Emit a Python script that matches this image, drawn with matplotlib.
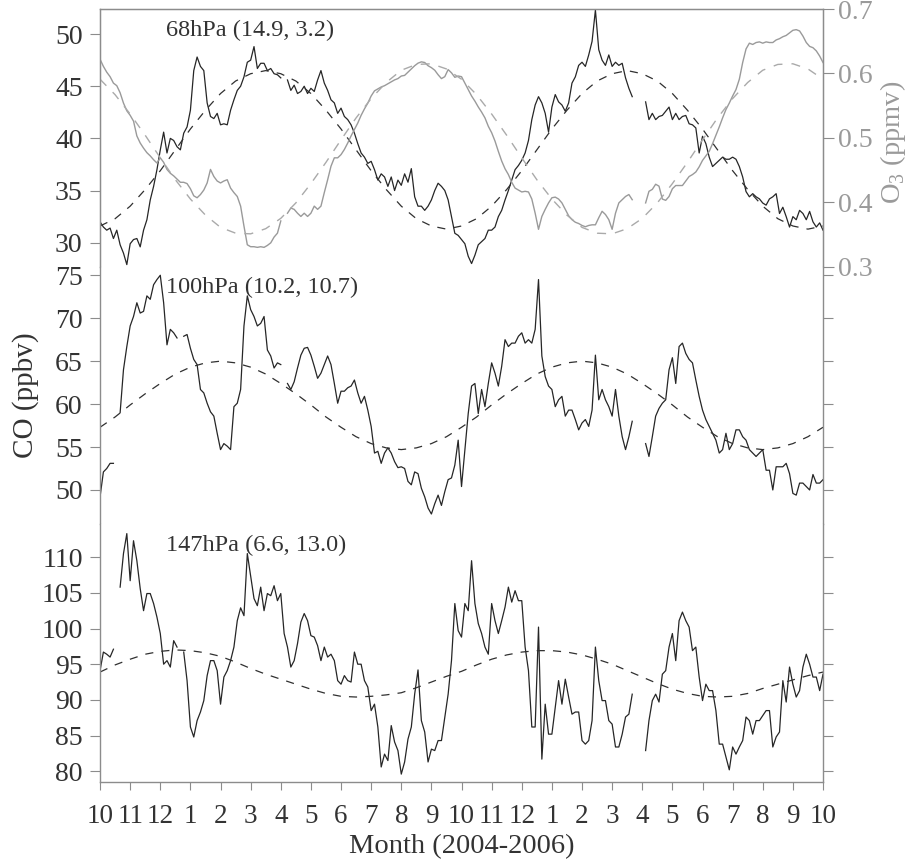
import numpy as np
import matplotlib
matplotlib.use("Agg")
from matplotlib import pyplot as plt

plt.rcParams['font.family'] = ['Liberation Serif', 'DejaVu Serif']
plt.rcParams['mathtext.fontset'] = 'custom'
plt.rcParams['mathtext.rm'] = 'Liberation Serif'

nan = np.nan

# x axis: months since 1 Oct 2004
month_ticks = list(range(25))
month_labels = ['10', '11', '12', '1', '2', '3', '4', '5', '6', '7', '8', '9',
                '10', '11', '12', '1', '2', '3', '4', '5', '6', '7', '8', '9', '10']

# CO at 68 hPa (ppbv), one value every 1/9 month
co68 = [32.0, 31.5, 31.2, 31.4, 30.4, 31.2, 29.8, 29.0, 27.9, 29.9,
        30.3, 30.4, 29.6, 31.2, 32.2, 34.1, 35.4, 37.0, 38.9, 40.6,
        38.6, 40.0, 39.8, 39.2, 38.9, 40.5, 41.1, 42.7, 46.5, 47.8,
        46.9, 46.5, 43.4, 42.1, 41.9, 42.4, 41.3, 41.4, 41.3, 42.7,
        43.7, 44.6, 45.0, 45.9, 47.3, 47.5, 48.8, 46.7, 47.2, 47.2,
        46.5, 46.7, 46.2, 46.1, 45.8, nan, 45.6, 44.6, 45.1, 44.3,
        44.5, 45.0, 44.3, 44.8, 44.5, 45.6, 46.5, 45.3, 44.6, 43.7,
        43.4, 42.4, 42.9, 42.1, 41.8, 41.3, 40.5, 39.5, 38.6, 38.2,
        37.6, 37.8, 37.0, 36.0, 36.6, 36.3, 35.4, 36.3, 35.0, 36.0,
        35.5, 36.6, 35.8, 37.1, 34.4, 33.5, 33.5, 33.1, 33.5, 34.1,
        35.0, 35.7, 35.4, 35.0, 34.1, 32.5, 30.9, 30.7,
        30.3, 29.9, 28.7, 28.0, 28.8, 29.8, 30.1, 30.4, 31.2, 31.2,
        31.5, 32.5, 33.1, 34.1, 35.0, 36.0, 37.0, 37.4, 37.9, 38.6,
        39.8, 41.8, 43.2, 44.0, 43.4, 42.4, 40.6, 43.0, 44.2, 43.5,
        43.2, 42.6, 43.4, 45.3, 45.9, 47.0, 47.3, 46.9, 48.0, 49.3,
        52.3, 48.5, 47.5, 47.0, 48.0, 46.9, 47.3, 47.0, 47.2, 45.8,
        44.8, 44.0, nan, nan, nan, 43.5, 41.8, 42.4, 41.8, 42.1,
        42.2, 42.6, 43.0, 41.8, 42.4, 41.8, 42.1, 42.2, 41.4, 41.3,
        41.0, 38.6, 40.2, 39.5, 38.2, 37.3, 37.6, 37.9, 38.2, 38.0,
        38.0, 38.2, 38.0, 37.3, 36.3, 34.9, 34.4, 34.7, 34.4, 34.2,
        33.8, 33.6, 34.2, 34.4, 34.7, 32.8, 33.4, 32.5, 31.5, 32.5,
        32.2, 33.1, 32.8, 32.2, 33.0, 32.0, 31.5, 31.9, 31.2]

# O3 at 68 hPa (ppmv)
o3_68 = [0.622, 0.611, 0.602, 0.595, 0.585, 0.581, 0.570, 0.554, 0.542, 0.535,
         0.526, 0.503, 0.492, 0.484, 0.477, 0.472, 0.466, 0.461, 0.469, 0.462,
         0.451, 0.445, 0.441, 0.436, 0.431, 0.431, 0.429, 0.421, 0.410, 0.407,
         0.412, 0.419, 0.430, 0.451, 0.440, 0.433, 0.430, 0.433, 0.435, 0.422,
         0.415, 0.409, 0.394, 0.363, 0.334, 0.331, 0.331, 0.330, 0.331, 0.330,
         0.333, 0.337, 0.346, 0.352, 0.371, nan, 0.383, 0.391, 0.389, 0.383,
         0.378, 0.383, 0.378, 0.383, 0.394, 0.389, 0.394, 0.415, 0.435, 0.456,
         0.469, 0.469, 0.474, 0.482, 0.492, 0.503, 0.513, 0.523, 0.535, 0.545,
         0.554, 0.565, 0.573, 0.576, 0.579, 0.581, 0.584, 0.587, 0.590, 0.592,
         0.596, 0.597, 0.602, 0.607, 0.612, 0.616, 0.618, 0.617, 0.612, 0.609,
         0.605, 0.598, 0.592, 0.595, 0.606, 0.601, 0.594, 0.596,
         0.595, 0.585, 0.575, 0.565, 0.557, 0.548, 0.540, 0.531, 0.518, 0.508,
         0.495, 0.479, 0.464, 0.452, 0.443, 0.431, 0.422, 0.419, 0.416, 0.417,
         0.416, 0.405, 0.383, 0.358, 0.378, 0.389, 0.399, 0.407, 0.408, 0.405,
         0.399, 0.389, 0.379, 0.373, 0.369, 0.367, 0.364, 0.362, 0.364, 0.365,
         0.365, 0.376, 0.386, 0.381, 0.373, 0.358, 0.383, 0.399, 0.404, 0.409,
         0.412, 0.404, nan, nan, nan, 0.399, 0.417, 0.420, 0.428, 0.425,
         0.405, 0.403, 0.409, 0.421, 0.426, 0.426, 0.426, 0.433, 0.440, 0.443,
         0.447, 0.455, 0.465, 0.472, 0.479, 0.491, 0.504, 0.517, 0.531, 0.544,
         0.554, 0.565, 0.575, 0.591, 0.617, 0.638, 0.647, 0.645, 0.648, 0.649,
         0.647, 0.649, 0.648, 0.648, 0.652, 0.654, 0.657, 0.659, 0.663, 0.667,
         0.668, 0.666, 0.658, 0.648, 0.642, 0.640, 0.635, 0.627, 0.617]

# CO at 100 hPa (ppbv)
co100 = [49.2, 52.1, 52.5, 53.1, 53.1, nan, 59.0, 64.0, 66.7, 69.1,
         70.2, 71.8, 70.6, 70.8, 72.6, 72.2, 73.9, 74.5, 75.0, 71.8,
         66.9, 68.7, 68.3, 67.7, nan, 67.9, 68.1, 66.5, 65.2, 64.6,
         61.7, 61.3, 60.1, 59.1, 58.6, 56.6, 54.7, 55.4, 55.1, 54.7,
         59.7, 60.1, 61.7, 69.1, 72.6, 71.0, 70.2, 69.1, 69.4, 70.2,
         66.3, 65.6, 64.2, 64.8, 64.6, nan, 62.4, 61.7, 62.6, 64.2,
         65.7, 66.5, 66.6, 65.7, 64.4, 63.0, 63.6, 64.6, 65.6, 64.6,
         62.4, 60.1, 61.5, 61.5, 61.9, 62.1, 62.8, 61.3, 60.1, 60.9,
         59.3, 57.4, 54.3, 54.5, 53.1, 54.3, 54.9, 54.3, 53.3, 52.6,
         52.7, 52.5, 51.0, 50.6, 52.1, 51.9, 50.2, 49.2, 47.9, 47.2,
         48.4, 49.4, 48.2, 49.8, 51.2, 51.4, 52.9, 55.8,
         50.4, 54.7, 58.9, 62.1, 62.4, 58.9, 61.7, 59.7, 62.4, 64.8,
         63.6, 62.1, 64.4, 67.5, 66.7, 67.1, 67.1, 67.9, 68.3, 67.1,
         67.5, 67.1, 68.7, 74.5, 65.6, 63.2, 62.1, 61.7, 59.7, 60.5,
         60.9, 58.6, 59.3, 59.3, 58.2, 57.0, 57.8, 58.2, 57.4, 59.3,
         65.7, 60.5, 61.7, 60.5, 59.7, 58.6, 61.7, 58.6, 56.2, 54.7,
         56.2, 58.0, nan, nan, nan, 55.4, 53.9, 56.2, 58.6, 59.5,
         60.1, 60.5, 64.0, 65.4, 62.4, 66.7, 67.1, 65.9, 65.2, 64.8,
         62.8, 60.9, 59.3, 58.2, 57.4, 56.6, 55.8, 54.3, 54.7, 56.6,
         54.7, 55.4, 57.0, 57.0, 56.2, 55.8, 54.7, 54.3, 53.9, 54.3,
         54.7, 52.3, 52.3, 50.0, 52.7, 52.7, 52.7, 53.1, 51.9, 49.6,
         49.4, 50.8, 50.8, 50.4, 50.0, 51.8, 50.8, 50.8, 51.2]

# CO at 147 hPa (ppbv)
co147 = [94.1, 96.7, 96.4, 96.0, 97.1, nan, 105.8, 110.5, 113.3, 106.7,
         112.3, 109.5, 105.6, 102.5, 104.9, 104.9, 103.5, 101.6, 99.3, 95.0,
         95.5, 94.6, 98.3, 97.4, nan, 96.7, 92.7, 86.2, 84.8, 87.1,
         88.3, 89.9, 93.4, 95.5, 95.5, 94.1, 89.4, 93.2, 94.1, 95.5,
         97.4, 101.1, 102.9, 101.8, 110.5, 107.4, 104.2, 103.2, 105.8, 102.5,
         104.9, 104.6, 106.0, 103.9, 104.9, 99.3, 97.4, 94.6, 95.5, 97.9,
         100.9, 102.1, 101.1, 99.0, 98.8, 97.6, 95.5, 97.4, 96.0, 96.4,
         95.5, 92.7, 92.2, 93.4, 92.7, 92.5, 96.7, 95.0, 95.0, 92.7,
         91.8, 88.5, 89.4, 86.2, 80.6, 82.4, 81.5, 86.4, 84.1, 82.9,
         79.6, 81.3, 84.5, 86.2, 90.8, 94.2, 87.1, 85.5, 81.3, 83.1,
         82.9, 84.3, 84.3, 87.6, 90.8, 95.5, 103.5, 99.7,
         98.8, 103.5, 102.5, 109.5, 103.5, 100.7, 99.3, 97.4, 96.4, 103.5,
         101.1, 99.3, 101.1, 103.0, 105.8, 103.7, 105.3, 103.9, 103.9, 97.4,
         94.1, 86.2, 86.2, 100.2, 81.7, 89.4, 85.2, 85.2, 89.0, 92.7,
         89.4, 92.9, 90.4, 88.0, 88.3, 88.3, 84.3, 83.8, 84.3, 87.1,
         97.4, 92.7, 89.9, 89.9, 87.1, 86.6, 83.4, 83.4, 85.2, 87.6,
         88.0, 90.8, nan, nan, nan, 82.9, 87.1, 89.9, 90.8, 89.7,
         93.6, 94.1, 97.4, 99.3, 95.5, 101.1, 102.3, 101.1, 100.2, 96.9,
         97.4, 93.2, 89.9, 92.2, 91.3, 91.3, 88.5, 83.8, 83.8, 82.0,
         80.2, 83.4, 82.4, 83.4, 84.3, 87.6, 87.1, 85.2, 87.1, 87.1,
         87.8, 88.5, 88.5, 83.4, 84.8, 85.5, 92.7, 89.7, 94.6, 92.2,
         90.4, 91.3, 94.6, 96.4, 95.0, 93.2, 93.2, 91.3, 93.6]

# seasonal fits (dashed), one value every half month
fit_co68 = [31.6, 32.3, 33.5, 35.1, 36.9, 38.9, 40.9, 42.7, 44.3, 45.5, 46.2, 46.5,
            46.2, 45.5, 44.3, 42.7, 40.9, 38.9, 36.9, 35.1, 33.5, 32.3, 31.6, 31.3,
            31.6, 32.3, 33.5, 35.1, 36.9, 38.9, 40.9, 42.7, 44.3, 45.5, 46.2, 46.5,
            46.2, 45.5, 44.3, 42.7, 40.9, 38.9, 36.9, 35.1, 33.5, 32.3, 31.6, 31.3,
            31.6]
fit_o3_68 = [0.591, 0.567, 0.537, 0.504, 0.469, 0.435, 0.405, 0.380, 0.361, 0.352, 0.351, 0.359,
             0.375, 0.399, 0.429, 0.462, 0.497, 0.531, 0.561, 0.586, 0.605, 0.614, 0.615, 0.607,
             0.591, 0.567, 0.537, 0.504, 0.469, 0.435, 0.405, 0.380, 0.361, 0.352, 0.351, 0.359,
             0.375, 0.399, 0.429, 0.462, 0.497, 0.531, 0.561, 0.586, 0.605, 0.614, 0.615, 0.607,
             0.591]
fit_co100 = [57.3, 58.5, 59.9, 61.2, 62.4, 63.5, 64.3, 64.8, 65.0, 64.8, 64.3, 63.5,
             62.4, 61.2, 59.9, 58.5, 57.3, 56.2, 55.4, 54.9, 54.7, 54.9, 55.4, 56.2,
             57.3, 58.5, 59.9, 61.2, 62.4, 63.5, 64.3, 64.8, 65.0, 64.8, 64.3, 63.5,
             62.4, 61.2, 59.9, 58.5, 57.3, 56.2, 55.4, 54.9, 54.7, 54.9, 55.4, 56.2,
             57.3]
fit_co147 = [93.9, 94.9, 95.7, 96.4, 96.8, 97.0, 96.9, 96.6, 96.1, 95.3, 94.4, 93.6,
             92.9, 92.2, 91.5, 90.9, 90.5, 90.4, 90.5, 90.7, 91.0, 91.7, 92.5, 93.3,
             94.0, 94.9, 95.7, 96.3, 96.7, 96.9, 96.9, 96.7, 96.3, 95.7, 95.0, 94.1,
             93.2, 92.3, 91.5, 90.9, 90.5, 90.4, 90.5, 90.9, 91.6, 92.2, 92.8, 93.4,
             93.9]

t_obs = np.arange(len(co68)) / 9.0
t_fit = np.arange(len(fit_co68)) / 2.0

frame = '#8c8c8c'
txt = '#333333'
gray = '#9a9a9a'

fig, axs = plt.subplots(3, 1, figsize=(9.07, 8.61), dpi=100, sharex=True,
                        gridspec_kw=dict(hspace=0))
fig.subplots_adjust(left=0.1103, right=0.9074, top=0.9895, bottom=0.0918)

panels = [
    (co68, fit_co68, (27.7, 52.4), [30, 35, 40, 45, 50], '68hPa (14.9, 3.2)'),
    (co100, fit_co100, (46, 76), [50, 55, 60, 65, 70, 75], '100hPa (10.2, 10.7)'),
    (co147, fit_co147, (78.5, 114.6), [80, 85, 90, 95, 100, 105, 110], '147hPa (6.6, 13.0)'),
]

for i, (ax, (obs, fit, ylim, yt, name)) in enumerate(zip(axs, panels)):
    ax.plot(t_obs, obs, color='#262626', lw=0.9)
    ax.plot(t_fit, fit, color='#303030', lw=0.9, linestyle=(0, (6.5, 6.5)))
    ax.set_ylim(*ylim)
    ax.set_yticks(yt)
    ax.set_xlim(0, 24)
    for s in ax.spines.values():
        s.set_color(frame)
        s.set_linewidth(1.0)
    ax.spines['top'].set_visible(i == 0)
    ax.spines['bottom'].set_visible(i == 2)
    ax.tick_params(axis='y', direction='out', length=7.5, width=0.8, color=frame,
                   labelsize=20, labelcolor=txt, pad=5, right=(i > 0))
    ax.tick_params(axis='x', direction='out', length=6, width=0.8, color=frame,
                   labelsize=19.5, labelcolor=txt, pad=10, bottom=(i == 2))
    ax.text(0.091, 0.918, name, transform=ax.transAxes, fontsize=17.5,
            color=txt, ha='left', va='center')

axs[2].set_xticks(month_ticks)
axs[2].set_xticklabels(month_labels)

# ozone on the right of the top panel
ax_o3 = axs[0].twinx()
ax_o3.plot(t_obs, o3_68, color=gray, lw=1.0)
ax_o3.plot(t_fit, fit_o3_68, color='#aaaaaa', lw=1.0, linestyle=(0, (6.5, 6.5)))
ax_o3.set_ylim(0.3, 0.7)
ax_o3.set_yticks([0.3, 0.4, 0.5, 0.6, 0.7])
ax_o3.tick_params(axis='y', direction='out', length=8, width=0.8, color=frame,
                  labelsize=20, labelcolor=gray, pad=3)
for s in ax_o3.spines.values():
    s.set_color(frame)
ax_o3.spines['bottom'].set_visible(False)

fig.text(0.0276, 0.5412, 'CO (ppbv)', rotation=90, fontsize=21, color=txt,
         ha='center', va='center')
fig.text(0.9846, 0.835, r'O$_3$ (ppmv)', rotation=90, fontsize=20.5, color=gray,
         ha='center', va='center')
fig.text(0.5088, 0.0170, 'Month (2004-2006)', fontsize=20.5, color=txt,
         ha='center', va='center')

plt.savefig('out.png', dpi=100)
